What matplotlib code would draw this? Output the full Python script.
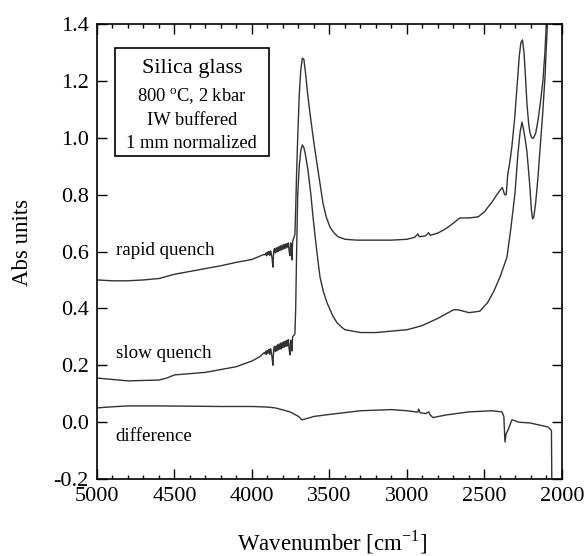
import matplotlib
matplotlib.use("Agg")
import matplotlib.pyplot as plt
from matplotlib.ticker import MultipleLocator

plt.rcParams['font.family'] = ['Liberation Serif', 'DejaVu Serif']
plt.rcParams['mathtext.fontset'] = 'custom'
plt.rcParams['mathtext.rm'] = 'Liberation Serif'

# rapid quench spectrum (wavenumber, absorbance)
rapid_x = [5000, 4900, 4800, 4700, 4600, 4500, 4400, 4300, 4200, 4100, 4000, 3930,
           3920, 3915, 3910, 3905, 3900, 3895, 3890, 3885, 3880, 3875, 3870, 3865,
           3860, 3855, 3850, 3845, 3840, 3835, 3830, 3825, 3820, 3815, 3810, 3805,
           3800, 3795, 3790, 3785, 3780, 3775, 3770, 3765, 3760, 3755, 3750, 3745,
           3742, 3738,
           3723, 3718, 3712, 3705, 3695, 3685, 3675, 3665, 3655, 3640, 3626, 3600,
           3581, 3560, 3542, 3520, 3497, 3470, 3445, 3400, 3323, 3200, 3100, 3000,
           2950, 2930, 2920, 2880, 2860, 2850, 2800, 2750, 2700, 2660, 2600, 2540,
           2500, 2450, 2420, 2400, 2385, 2370, 2360, 2350, 2335, 2323, 2305, 2290,
           2275, 2265, 2255, 2245, 2235, 2226, 2215, 2206, 2195, 2185, 2170, 2155,
           2140, 2123, 2110, 2103, 2095]
rapid_y = [0.500, 0.497, 0.497, 0.500, 0.505, 0.520, 0.530, 0.540, 0.550, 0.562, 0.572, 0.588,
           0.590, 0.588, 0.595, 0.585, 0.598, 0.590, 0.600, 0.585, 0.602, 0.592, 0.575, 0.545,
           0.600, 0.610, 0.595, 0.612, 0.598, 0.615, 0.600, 0.618, 0.603, 0.620, 0.605, 0.622,
           0.608, 0.625, 0.610, 0.626, 0.612, 0.628, 0.615, 0.630, 0.600, 0.585, 0.630, 0.615,
           0.570, 0.635,
           0.660, 0.750, 0.880, 1.000, 1.150, 1.240, 1.280, 1.275, 1.230, 1.150, 1.087, 0.980,
           0.910, 0.835, 0.770, 0.720, 0.686, 0.665, 0.652, 0.643, 0.640, 0.640, 0.640, 0.643,
           0.650, 0.662, 0.652, 0.655, 0.666, 0.657, 0.665, 0.680, 0.700, 0.718, 0.718, 0.722,
           0.740, 0.775, 0.800, 0.815, 0.825, 0.800, 0.800, 0.870, 0.920, 0.970, 1.070, 1.180,
           1.290, 1.335, 1.344, 1.300, 1.210, 1.120, 1.050, 1.016, 1.000, 0.998, 1.015, 1.060,
           1.120, 1.200, 1.300, 1.380, 1.450]

# slow quench spectrum
slow_x = [5000, 4800, 4600, 4550, 4500, 4300, 4100, 4000, 3950,
          3920, 3915, 3910, 3905, 3900, 3895, 3890, 3885, 3880, 3875, 3870, 3865,
          3860, 3855, 3850, 3845, 3840, 3835, 3830, 3825, 3820, 3815, 3810, 3805,
          3800, 3795, 3790, 3785, 3780, 3775, 3770, 3765, 3760, 3755, 3750, 3745,
          3742, 3738,
          3723, 3718, 3712, 3705, 3695, 3685, 3675, 3665, 3655, 3639, 3620, 3606,
          3590, 3575, 3561, 3540, 3516, 3480, 3452, 3420, 3400, 3300, 3200, 3000,
          2930, 2900, 2800, 2700, 2670, 2600, 2530, 2480, 2440, 2400, 2355, 2330,
          2303, 2284, 2270, 2258, 2248, 2236, 2226, 2215, 2206, 2198, 2190, 2182,
          2170, 2155, 2142, 2125, 2110, 2090]
slow_y = [0.155, 0.145, 0.148, 0.155, 0.166, 0.175, 0.195, 0.215, 0.230,
          0.245, 0.240, 0.250, 0.238, 0.252, 0.243, 0.256, 0.238, 0.258, 0.245, 0.225, 0.200,
          0.255, 0.266, 0.248, 0.268, 0.250, 0.272, 0.254, 0.275, 0.256, 0.278, 0.258, 0.280,
          0.262, 0.283, 0.264, 0.285, 0.266, 0.288, 0.268, 0.290, 0.255, 0.236, 0.288, 0.270,
          0.250, 0.300,
          0.310, 0.400, 0.600, 0.800, 0.900, 0.955, 0.975, 0.965, 0.940, 0.887, 0.800, 0.720,
          0.640, 0.570, 0.510, 0.460, 0.420, 0.375, 0.350, 0.333, 0.325, 0.315, 0.315, 0.325,
          0.335, 0.340, 0.365, 0.395, 0.395, 0.385, 0.390, 0.420, 0.460, 0.510, 0.580, 0.680,
          0.806, 0.946, 1.020, 1.055, 1.030, 0.990, 0.950, 0.880, 0.820, 0.750, 0.715, 0.720,
          0.770, 0.860, 0.957, 1.080, 1.210, 1.450]

# difference spectrum
diff_x = [5000, 4900, 4800, 4600, 4400, 4200, 4000, 3900, 3850, 3800, 3750, 3700,
          3677, 3650, 3600, 3500, 3300, 3100, 3000, 2930, 2925, 2915, 2880, 2860,
          2850, 2832, 2750, 2600, 2450, 2387, 2375, 2368, 2360, 2348, 2323, 2303,
          2284, 2206, 2090, 2068, 2065]
diff_y = [0.050, 0.054, 0.057, 0.057, 0.056, 0.055, 0.055, 0.053, 0.050, 0.043, 0.035, 0.020,
          0.008, 0.012, 0.020, 0.027, 0.040, 0.044, 0.040, 0.035, 0.046, 0.033, 0.030, 0.036,
          0.025, 0.016, 0.025, 0.036, 0.040, 0.036, 0.020, -0.070, -0.040, -0.028, 0.008, 0.005,
          0.000, -0.003, -0.017, -0.030, -0.250]

line_color = '#333333'

fig = plt.figure(figsize=(5.86, 5.56), dpi=100)
ax = fig.add_axes([0.1655, 0.1385, 0.7935, 0.8183])

ax.plot(rapid_x, rapid_y, color=line_color, lw=1.0)
ax.plot(slow_x, slow_y, color=line_color, lw=1.0)
ax.plot(diff_x, diff_y, color=line_color, lw=1.0)

ax.set_xlim(5000, 2000)
ax.set_ylim(-0.2, 1.4)
ax.xaxis.set_major_locator(MultipleLocator(500))
ax.xaxis.set_minor_locator(MultipleLocator(100))
ax.yaxis.set_major_locator(MultipleLocator(0.2))
ax.yaxis.set_major_formatter(matplotlib.ticker.FormatStrFormatter('%.1f'))
ax.tick_params(which='both', direction='in', top=True, right=True, labelsize=16, width=1.0)
ax.tick_params(which='major', length=7, pad=6)
ax.tick_params(which='minor', length=3)
for s in ax.spines.values():
    s.set_linewidth(1.2)

ax.set_xlabel('Wavenumber [cm$^{-1}$]', fontsize=16.5)
ax.set_ylabel('Abs units', fontsize=16.5)
ax.xaxis.set_label_coords(0.506, -0.108)
ax.yaxis.set_label_coords(-0.138, 0.519)

ax.text(4880, 0.605, 'rapid quench', fontsize=13.7, va='center', ha='left')
ax.text(4880, 0.243, 'slow quench', fontsize=13.7, va='center', ha='left')
ax.text(4880, -0.052, 'difference', fontsize=13.7, va='center', ha='left')

box = plt.Rectangle((0.039, 0.71), 0.331, 0.237, transform=ax.transAxes,
                    fill=False, lw=1.2, ec='black')
ax.add_patch(box)
ax.text(0.204, 0.903, 'Silica glass', transform=ax.transAxes, ha='center', va='center', fontsize=16)
ax.text(0.204, 0.840, '800 $^{\\mathrm{o}}$C, 2 kbar', transform=ax.transAxes, ha='center', va='center', fontsize=13.3)
ax.text(0.204, 0.789, 'IW buffered', transform=ax.transAxes, ha='center', va='center', fontsize=13.3)
ax.text(0.204, 0.738, '1 mm normalized', transform=ax.transAxes, ha='center', va='center', fontsize=13.3)

fig.savefig('out.png', dpi=100)
